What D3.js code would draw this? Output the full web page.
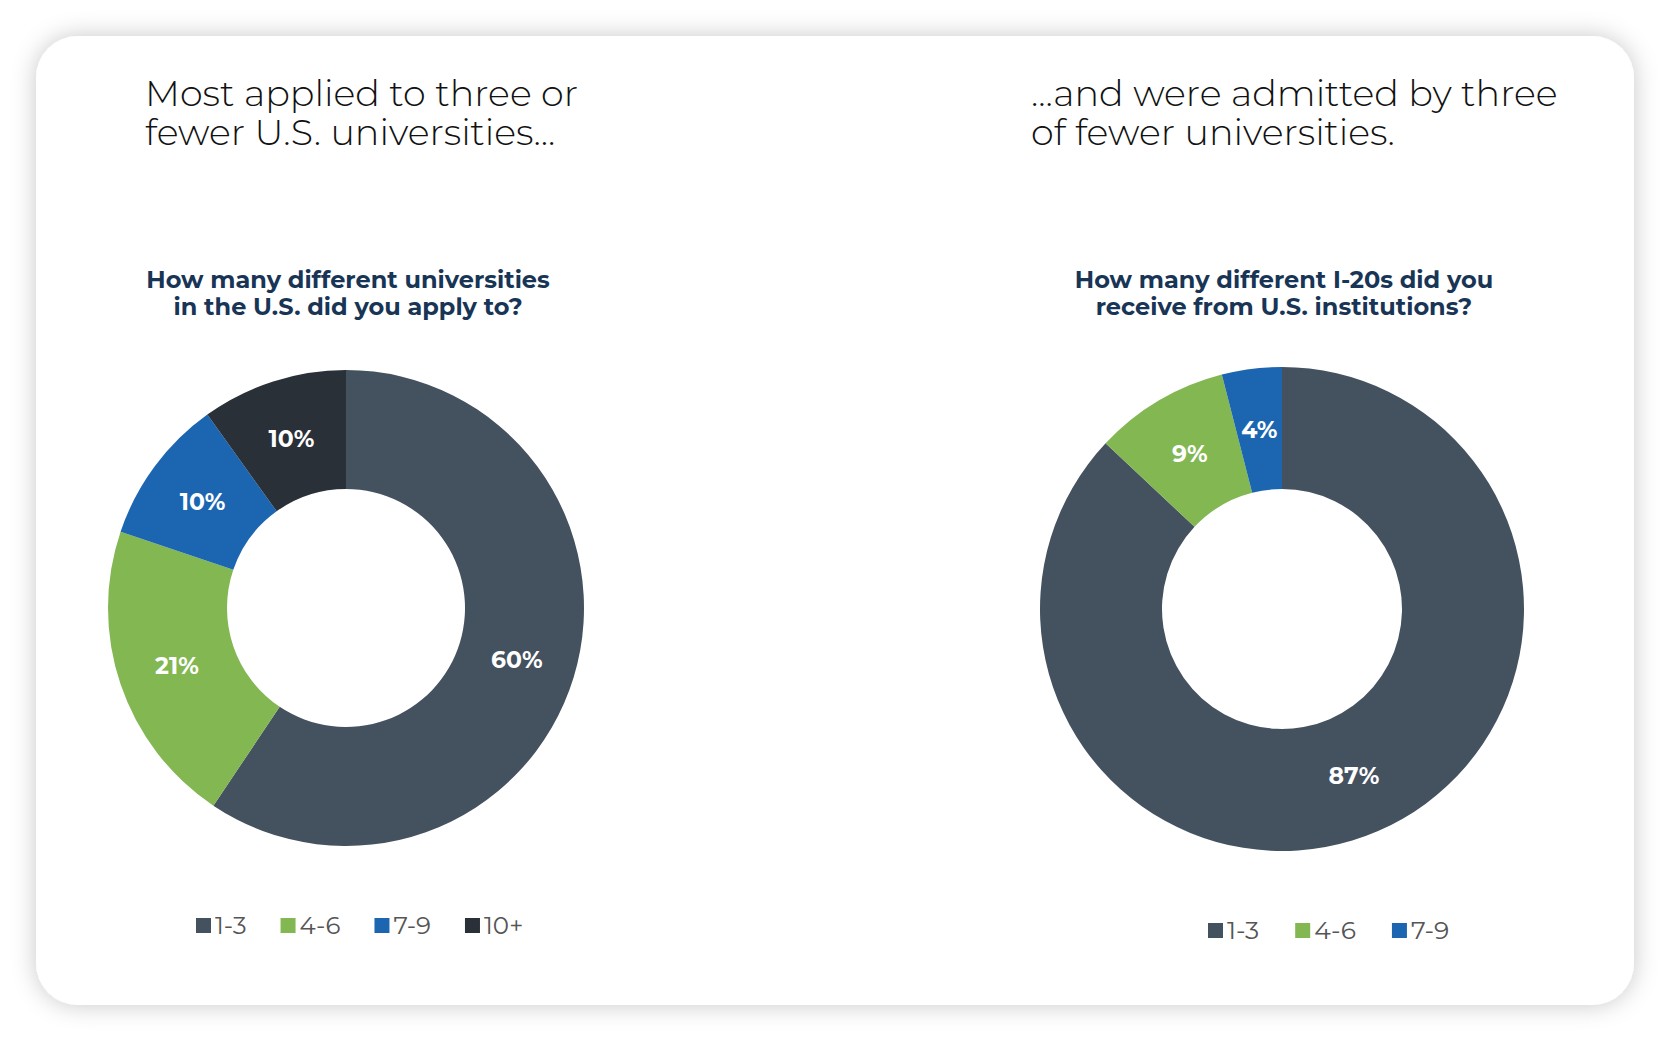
<!DOCTYPE html>
<html>
<head>
<meta charset="utf-8">
<script src="https://cdn.jsdelivr.net/npm/d3@7/dist/d3.min.js"></script>
<style>
  html, body { margin: 0; padding: 0; background: #ffffff; }
  svg { display: block; }
</style>
</head>
<body>
<svg id="chart" width="1670" height="1042"></svg>
<script>
// ---- data ----
const categoriesApplied = ["1-3", "4-6", "7-9", "10+"];
const valuesApplied = [60, 21, 10, 10];
const categoriesAdmitted = ["1-3", "4-6", "7-9"];
const valuesAdmitted = [87, 9, 4];
const headlineLeft = ["Most applied to three or", "fewer U.S. universities..."];
const headlineRight = ["...and were admitted by three", "of fewer universities."];
const questionLeft = ["How many different universities", "in the U.S. did you apply to?"];
const questionRight = ["How many different I-20s did you", "receive from U.S. institutions?"];
const colorRange = ["#44515f", "#82b752", "#1c66b1", "#2a3038"];

const svg = d3.select("#chart");

// card with shadow
const defs = svg.append("defs");
const f = defs.append("filter").attr("id", "shadow").attr("x", "-10%").attr("y", "-10%").attr("width", "120%").attr("height", "120%");
f.append("feDropShadow").attr("dx", 0).attr("dy", 0).attr("stdDeviation", 12).attr("flood-color", "#000").attr("flood-opacity", 0.22);

svg.append("rect").attr("x", 36).attr("y", 36).attr("width", 1598).attr("height", 969)
  .attr("rx", 42).attr("ry", 42).attr("fill", "#ffffff").attr("filter", "url(#shadow)");

const color = d3.scaleOrdinal().domain(categoriesApplied).range(colorRange);

const titleFont = "'Montserrat', 'Open Sans', sans-serif";

function headline(lines, x, y0) {
  const t = svg.append("text").attr("x", x).attr("y", y0)
    .attr("font-family", titleFont).attr("font-weight", 300)
    .attr("font-size", 36.5).attr("fill", "#111");
  lines.forEach((l, i) => t.append("tspan").attr("x", x).attr("dy", i === 0 ? 0 : 39).text(l));
}
function question(lines, cx, y0) {
  const t = svg.append("text").attr("x", cx).attr("y", y0).attr("text-anchor", "middle")
    .attr("font-family", titleFont).attr("font-weight", 700)
    .attr("font-size", 24).attr("fill", "#183556");
  lines.forEach((l, i) => t.append("tspan").attr("x", cx).attr("dy", i === 0 ? 0 : 27).text(l));
}

function donut(cats, vals, cx, cy, rOuter, rInner) {
  const data = cats.map((c, i) => ({ cat: c, value: vals[i] }));
  const pie = d3.pie().value(d => d.value).sort(null);
  const arc = d3.arc().innerRadius(rInner).outerRadius(rOuter);
  const g = svg.append("g").attr("transform", `translate(${cx},${cy})`);
  const arcs = pie(data);
  g.selectAll("path").data(arcs).join("path")
    .attr("d", arc).attr("fill", d => color(d.data.cat));
  g.selectAll("text").data(arcs).join("text")
    .attr("transform", d => `translate(${arc.centroid(d)})`)
    .attr("text-anchor", "middle").attr("dy", "0.36em")
    .attr("font-family", titleFont).attr("font-weight", 700).attr("font-size", 23.5)
    .attr("fill", "#ffffff")
    .text(d => d.data.value + "%");
}

function legend(cats, x0, cy, fs, gap) {
  const g = svg.append("g");
  let x = x0;
  cats.forEach(c => {
    g.append("rect").attr("x", x).attr("y", cy - 7).attr("width", 15).attr("height", 15).attr("fill", color(c));
    const t = g.append("text").attr("x", x + 19).attr("y", cy).attr("dy", "0.36em")
      .attr("font-family", titleFont).attr("font-weight", 400).attr("font-size", fs)
      .attr("fill", "#555").text(c);
    const w = t.node().getComputedTextLength();
    x += 19 + w + gap;
  });
}

headline(headlineLeft, 145, 106);
headline(headlineRight, 1031, 106);
question(questionLeft, 348, 288);
question(questionRight, 1284, 288);
donut(categoriesApplied, valuesApplied, 346, 608, 238, 119);
donut(categoriesAdmitted, valuesAdmitted, 1282, 609, 242, 120);
legend(categoriesApplied, 196, 925, 24.5, 34);
legend(categoriesAdmitted, 1208, 930, 25, 36);
</script>
</body>
</html>
